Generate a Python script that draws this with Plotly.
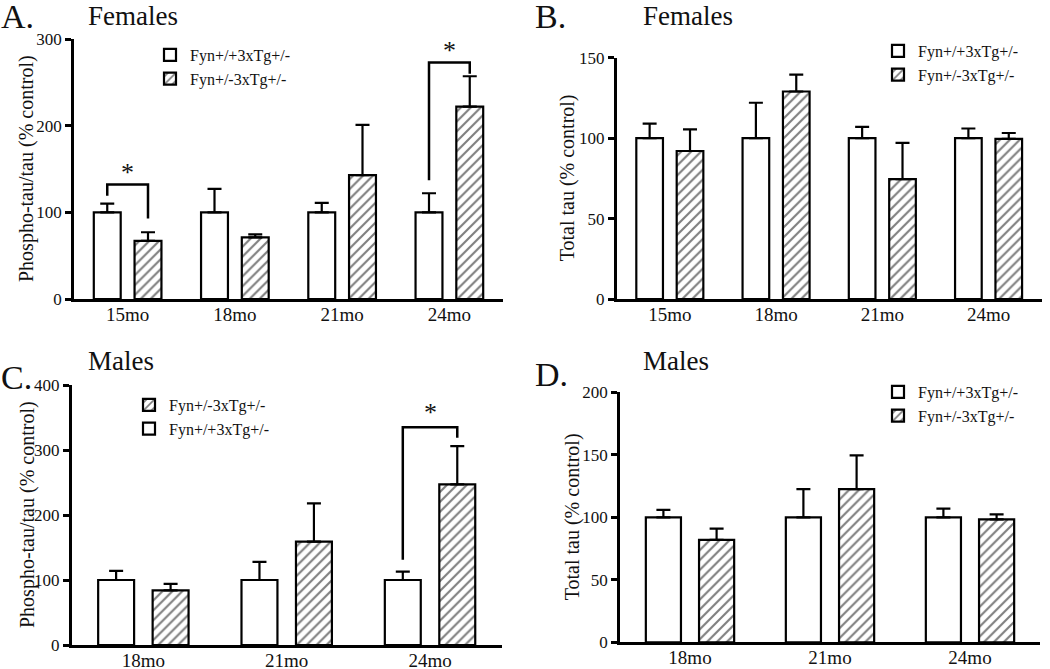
import plotly.graph_objects as go

# ---------------- data ----------------
ages_f = ["15mo", "18mo", "21mo", "24mo"]
ages_m = ["18mo", "21mo", "24mo"]
label_wt = "Fyn+/+3xTg+/-"
label_het = "Fyn+/-3xTg+/-"

# A: Females phospho-tau/tau
a_wt = [100, 100, 100, 100]
a_wt_err = [10, 27, 11, 22]
a_het = [67, 71, 143, 222]
a_het_err = [10, 3.5, 58, 35]

# B: Females total tau
b_wt = [100, 100, 100, 100]
b_wt_err = [9, 22, 7, 6]
b_het = [92, 129, 74.5, 99.6]
b_het_err = [13.5, 10.5, 22.5, 3.6]

# C: Males phospho-tau/tau
c_wt = [100, 100, 100]
c_wt_err = [14, 28, 13]
c_het = [84, 159, 247]
c_het_err = [10, 59, 59]

# D: Males total tau
d_wt = [100, 100, 100]
d_wt_err = [6, 22.6, 7]
d_het = [82, 122.6, 98.4]
d_het_err = [9, 27, 4]

# significance brackets: (panel, category, left-leg bottom, top, right-leg bottom, star y)
sig_brackets = [
    ("A", "15mo", 119, 132, 93, 146),
    ("A", "24mo", 137, 273, 260, 287),
    ("C", "24mo", 131, 335, 319, 357),
]

FONT = "Liberation Serif"
W, H = 1050, 669


def px(x):
    return x / W


def py(y):
    return 1 - y / H


panels = {
    "A": dict(cats=ages_f, wt=a_wt, wte=a_wt_err, het=a_het, hete=a_het_err,
              xd=[74, 503], yd=[299, 39], yr=[0, 300], dt=100,
              ytitle="Phospho-tau/tau (% control)", tx=27, letter="A.", sub="Females",
              lx=-1, ly=16, sx=86, sy=16, legpos=(150, 38), hetfirst=False),
    "B": dict(cats=ages_f, wt=b_wt, wte=b_wt_err, het=b_het, hete=b_het_err,
              xd=[616.7, 1041.7], yd=[299, 57.7], yr=[0, 150], dt=50,
              ytitle="Total tau (% control)", tx=567, letter="B.", sub="Females",
              lx=533, ly=16, sx=641, sy=16, legpos=(878, 34), hetfirst=False),
    "C": dict(cats=ages_m, wt=c_wt, wte=c_wt_err, het=c_het, hete=c_het_err,
              xd=[71.7, 501.7], yd=[645, 385], yr=[0, 400], dt=100,
              ytitle="Phospho-tau/tau (% control)", tx=27, letter="C.", sub="Males",
              lx=-1, ly=377, sx=86, sy=361, legpos=(129, 388), hetfirst=True),
    "D": dict(cats=ages_m, wt=d_wt, wte=d_wt_err, het=d_het, hete=d_het_err,
              xd=[620, 1040], yd=[642.3, 392.3], yr=[0, 200], dt=50,
              ytitle="Total tau (% control)", tx=572, letter="D.", sub="Males",
              lx=533, ly=374, sx=641, sy=361, legpos=(878, 375), hetfirst=False),
}

fig = go.Figure()
annotations = []
shapes = []
layout = {}

for i, (key, p) in enumerate(panels.items()):
    n = i + 1
    xa = "x" if n == 1 else f"x{n}"
    ya = "y" if n == 1 else f"y{n}"
    leg = "legend" if n == 1 else f"legend{n}"
    err_style = dict(type="data", symmetric=False, color="black", thickness=2.2, width=7)
    fig.add_trace(go.Bar(
        x=p["cats"], y=p["wt"], name=label_wt, xaxis=xa, yaxis=ya, legend=leg,
        marker=dict(color="white", line=dict(color="black", width=2.2)),
        error_y=dict(array=p["wte"], arrayminus=[0] * len(p["wte"]), **err_style),
        legendrank=2 if p["hetfirst"] else 1, hoverinfo="skip",
    ))
    fig.add_trace(go.Bar(
        x=p["cats"], y=p["het"], name=label_het, xaxis=xa, yaxis=ya, legend=leg,
        marker=dict(color="white", line=dict(color="black", width=2.2),
                    pattern=dict(shape="/", fgcolor="black", bgcolor="white",
                                 size=7, solidity=0.3)),
        error_y=dict(array=p["hete"], arrayminus=[0] * len(p["hete"]), **err_style),
        legendrank=1 if p["hetfirst"] else 2, hoverinfo="skip",
    ))
    xd = [px(p["xd"][0]), px(p["xd"][1])]
    yd = [py(p["yd"][0]), py(p["yd"][1])]
    xkey = "xaxis" if n == 1 else f"xaxis{n}"
    ykey = "yaxis" if n == 1 else f"yaxis{n}"
    layout[xkey] = dict(
        domain=xd, anchor=ya, range=[-0.5, len(p["cats"]) - 0.5], automargin=False,
        showline=True, linecolor="black", linewidth=2.5, ticks="",
        showgrid=False, zeroline=False, ticklabelstandoff=-4,
        tickfont=dict(family=FONT, size=19, color="#111"), fixedrange=True,
    )
    layout[ykey] = dict(
        domain=yd, anchor=xa, range=p["yr"], dtick=p["dt"], automargin=False,
        showline=True, linecolor="black", linewidth=2.5,
        ticks="outside", ticklen=6, tickwidth=2.5, tickcolor="black",
        showgrid=False, zeroline=False,
        tickfont=dict(family=FONT, size=17, color="#111"),
        fixedrange=True,
    )
    layout[leg] = dict(
        x=px(p["legpos"][0]), y=py(p["legpos"][1]), xanchor="left", yanchor="top",
        bgcolor="rgba(0,0,0,0)", borderwidth=0,
        font=dict(family=FONT, size=16, color="#111"),
        traceorder="normal", itemwidth=30,
    )
    annotations.append(dict(text=p["ytitle"], x=px(p["tx"]), y=(yd[0] + yd[1]) / 2,
                            xref="paper", yref="paper", xanchor="center", yanchor="middle",
                            textangle=-90, showarrow=False,
                            font=dict(family=FONT, size=20, color="#111")))
    annotations.append(dict(text=p["letter"], x=px(p["lx"]), y=py(p["ly"]),
                            xref="paper", yref="paper", xanchor="left", yanchor="middle",
                            showarrow=False, font=dict(family=FONT, size=34, color="#111")))
    annotations.append(dict(text=p["sub"], x=px(p["sx"]), y=py(p["sy"]),
                            xref="paper", yref="paper", xanchor="left", yanchor="middle",
                            showarrow=False, font=dict(family=FONT, size=27, color="#111")))

# bar centre offset within a category (group layout: bargap .24 -> +-0.19)
OFF = 0.19
for (panel, cat, lb, top, rb, sy) in sig_brackets:
    p = panels[panel]
    n = list(panels).index(panel) + 1
    xa = "x" if n == 1 else f"x{n}"
    ya = "y" if n == 1 else f"y{n}"
    c = p["cats"].index(cat)
    x0, x1 = c - OFF, c + OFF
    shapes.append(dict(type="path", xref=xa, yref=ya,
                       path=f"M {x0} {lb} L {x0} {top} L {x1} {top} L {x1} {rb}",
                       line=dict(color="black", width=2.5)))
    annotations.append(dict(text="*", x=c, y=sy, xref=xa, yref=ya, showarrow=False,
                            xanchor="center", yanchor="middle",
                            font=dict(family=FONT, size=26, color="#111")))

fig.update_layout(
    **layout,
    width=W, height=H, margin=dict(l=0, r=0, t=0, b=0, autoexpand=False),
    paper_bgcolor="white", plot_bgcolor="white",
    barmode="group", bargap=0.24, bargroupgap=0.34,
    showlegend=True, annotations=annotations, shapes=shapes,
    font=dict(family=FONT, color="#111"),
)
# remove the browser's default 8px page margin so the figure fills the window
fig.write_html("out.html", config={"displayModeBar": False},
               post_script="document.body.style.margin='0';")
